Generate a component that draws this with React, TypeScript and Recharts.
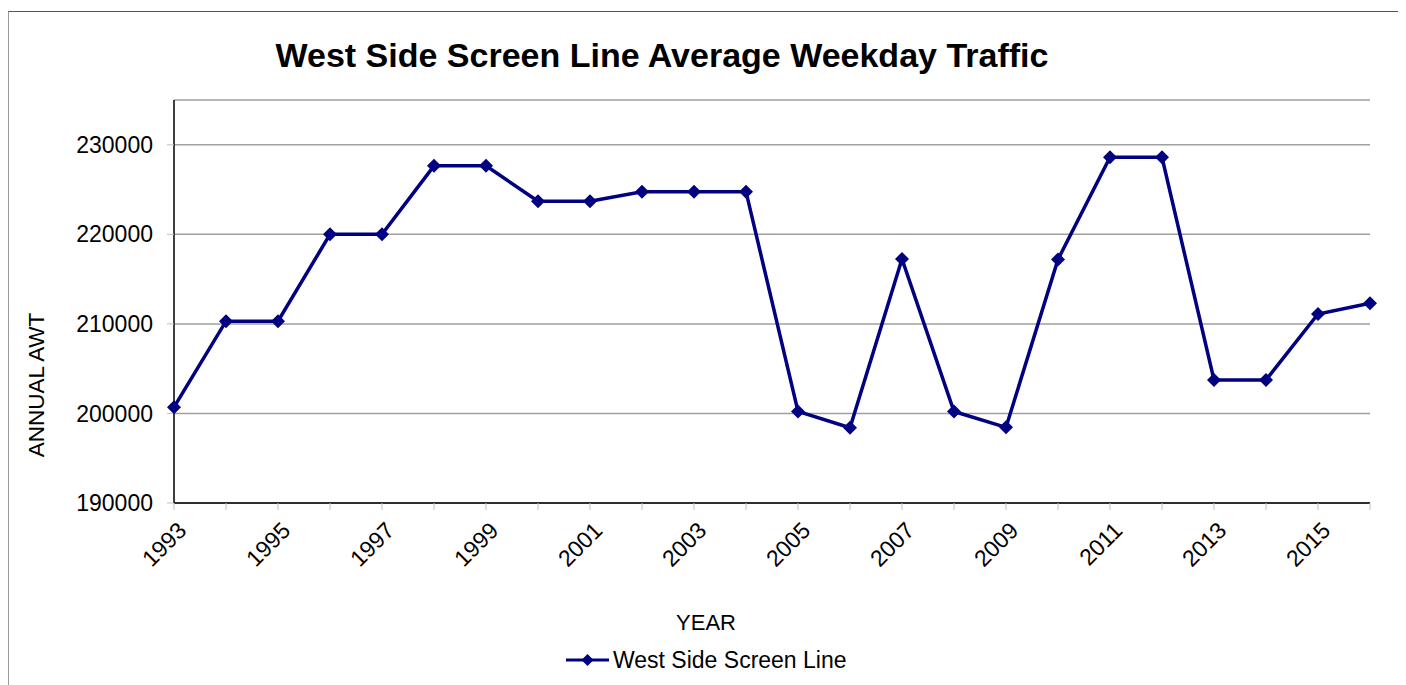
import { LineChart, Line, XAxis, YAxis, CartesianGrid, Legend } from "recharts";

const years = [
  "1993", "1994", "1995", "1996", "1997", "1998", "1999", "2000", "2001", "2002", "2003", "2004",
  "2005", "2006", "2007", "2008", "2009", "2010", "2011", "2012", "2013", "2014", "2015", "2016",
];
const awt = [
  200700, 210300, 210300, 220000, 220000, 227650, 227650, 223700, 223700, 224760, 224760, 224760,
  200220, 198400, 217250, 200220, 198450, 217200, 228600, 228600, 203740, 203740, 211100, 212300,
];
const yTicks = [190000, 200000, 210000, 220000, 230000];
const seriesName = "West Side Screen Line";

const data = years.map((year, i) => ({ year, awt: awt[i] }));

const FONT = '"Liberation Sans", Arial, sans-serif';
const NAVY = "#000080";

const Diamond = (props: any) => {
  const { cx, cy } = props;
  if (cx == null || cy == null) return null;
  const r = 7;
  return <polygon points={`${cx},${cy - r} ${cx + r},${cy} ${cx},${cy + r} ${cx - r},${cy}`} fill={NAVY} />;
};

const YearTick = (props: any) => {
  const { x, y, payload } = props;
  if (Number(payload.value) % 2 === 0) return null;
  return (
    <g transform={`translate(${x + 8},${y + 14}) rotate(-45)`}>
      <text textAnchor="end" dy="0.36em" fontSize={23} fill="#000" fontFamily={FONT}>
        {payload.value}
      </text>
    </g>
  );
};

const LegendContent = () => (
  <div style={{ display: "flex", alignItems: "center", height: 26, fontFamily: FONT, fontSize: 23 }}>
    <svg width={44} height={26}>
      <line x1={0} y1={13} x2={43} y2={13} stroke={NAVY} strokeWidth={3} />
      <polygon points="21.5,7 27.5,13 21.5,19 15.5,13" fill={NAVY} />
    </svg>
    <span style={{ marginLeft: 3, color: "#000" }}>{seriesName}</span>
  </div>
);

export default function App() {
  return (
    <div
      style={{
        position: "relative",
        top: 3,
        width: 1394,
        height: 690,
        boxSizing: "border-box",
        borderTop: "1px solid #555",
        borderLeft: "1px solid #9a9a9a",
        borderRight: "3px solid #a6a6a6",
        background: "#fff",
      }}
    >
      <LineChart
        width={1390}
        height={676}
        data={data}
        margin={{ top: 88, right: 29, left: 0, bottom: 15 }}
        style={{ fontFamily: FONT }}
      >
        <text x={653} y={55} textAnchor="middle" fontSize={34} fontWeight="bold" fill="#000" fontFamily={FONT}>
          West Side Screen Line Average Weekday Traffic
        </text>
        <CartesianGrid vertical={false} stroke="#a0a0a0" strokeWidth={1.5} />
        <XAxis
          dataKey="year"
          interval={0}
          height={144}
          tickSize={7}
          tick={<YearTick />}
          tickLine={{ stroke: "#c0c0c0" }}
          axisLine={{ stroke: "#000", strokeWidth: 1.5 }}
          label={{
            content: () => (
              <text x={697} y={618} textAnchor="middle" fontSize={22} fill="#000" fontFamily={FONT}>
                YEAR
              </text>
            ),
          }}
        />
        <YAxis
          width={165}
          domain={[190000, 235000]}
          ticks={yTicks}
          interval={0}
          tickSize={7}
          tickMargin={14}
          tick={{ fontSize: 23, fill: "#000", fontFamily: FONT }}
          tickLine={{ stroke: "#c0c0c0" }}
          axisLine={{ stroke: "#000", strokeWidth: 1.5 }}
          label={{
            content: () => (
              <text
                transform="translate(35,373) rotate(-90)"
                textAnchor="middle"
                fontSize={22.5}
                fill="#000"
                fontFamily={FONT}
              >
                ANNUAL AWT
              </text>
            ),
          }}
        />
        <Legend verticalAlign="bottom" content={<LegendContent />} wrapperStyle={{ left: 557, width: "auto" }} />
        <Line
          type="linear"
          dataKey="awt"
          name={seriesName}
          stroke={NAVY}
          strokeWidth={3.5}
          dot={<Diamond />}
          activeDot={false}
          isAnimationActive={false}
        />
      </LineChart>
    </div>
  );
}
